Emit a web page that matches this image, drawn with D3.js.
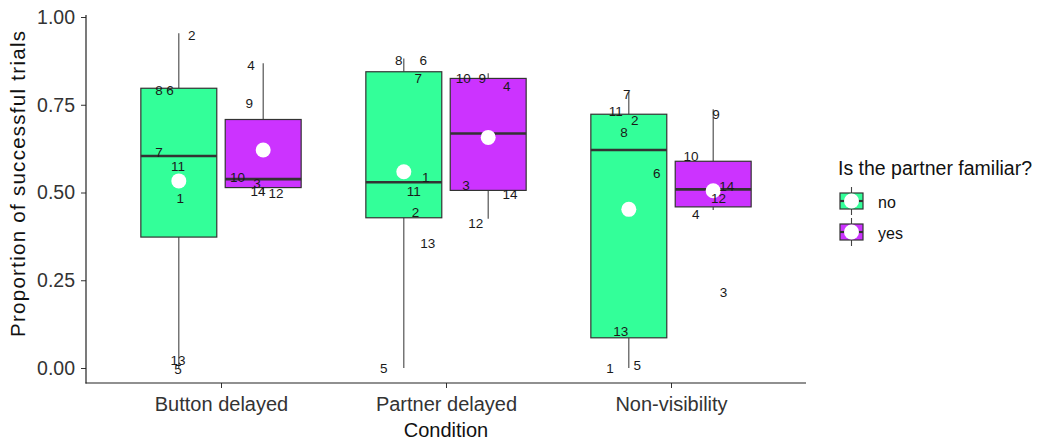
<!DOCTYPE html>
<html>
<head>
<meta charset="utf-8">
<script src="https://cdn.jsdelivr.net/npm/d3@7"></script>
<style>
  body { margin: 0; background: #fff; }
  text { font-family: "Liberation Sans", Arial, sans-serif; }
</style>
</head>
<body>
<svg id="chart" width="1038" height="441"></svg>
<script>
// ---- data ----
const conditions = ["Button delayed", "Partner delayed", "Non-visibility"];
const familiarity = ["no", "yes"];
const fillColors = ["#33FF99", "#CC33FF"];

// box statistics, one [no, yes] pair per condition
const whiskerLow  = [[0.000, 0.498], [0.000, 0.425], [0.000, 0.450]];
const lowerQuart  = [[0.373, 0.514], [0.428, 0.506], [0.086, 0.459]];
const medians     = [[0.604, 0.538], [0.529, 0.668], [0.621, 0.509]];
const upperQuart  = [[0.797, 0.708], [0.844, 0.825], [0.723, 0.589]];
const whiskerHigh = [[0.954, 0.868], [0.882, 0.840], [0.787, 0.737]];
const groupMeans  = [[0.533, 0.621], [0.559, 0.657], [0.452, 0.505]];

// participant labels (jittered text): ids, proportion, horizontal jitter in category units
const labelIds = [
  [[2, 8, 6, 7, 11, 1, 13, 5], [4, 9, 10, 3, 14, 12]],
  [[8, 6, 7, 1, 11, 2, 13, 5], [10, 9, 4, 3, 14, 12]],
  [[7, 11, 2, 8, 6, 13, 1, 5], [9, 10, 14, 12, 4, 3]]
];
const labelValues = [
  [[0.947, 0.791, 0.791, 0.616, 0.576, 0.483, 0.023, -0.003], [0.863, 0.756, 0.545, 0.526, 0.505, 0.498]],
  [[0.876, 0.876, 0.825, 0.545, 0.505, 0.445, 0.355, 0.000], [0.825, 0.825, 0.804, 0.521, 0.496, 0.414]],
  [[0.781, 0.733, 0.707, 0.673, 0.555, 0.106, 0.000, 0.008], [0.723, 0.604, 0.519, 0.485, 0.439, 0.217]]
];
const labelJitter = [
  [[0.058, -0.088, -0.039, -0.088, -0.004, 0.006, -0.004, -0.004], [-0.054, -0.062, -0.114, -0.028, -0.023, 0.057]],
  [[-0.023, 0.086, 0.064, 0.097, 0.044, 0.052, 0.106, -0.089], [-0.111, -0.026, 0.082, -0.099, 0.097, -0.055]],
  [[-0.009, -0.058, 0.026, -0.021, 0.124, -0.036, -0.084, 0.038], [0.012, -0.099, 0.060, 0.024, -0.077, 0.046]]
];

const yTicks = [0, 0.25, 0.5, 0.75, 1];

// ---- layout ----
const panel = { left: 86, right: 806, top: 15, bottom: 383 };
const svg = d3.select("#chart");

const x = d3.scalePoint().domain(conditions).range([panel.left, panel.right]).padding(0.6);
const step = x.step();
const dodgeWidth = 0.75;
const boxWidth = dodgeWidth / 2 * 0.9 * step;
const groupX = (ci, gi) => x(conditions[ci]) + (gi - 0.5) * dodgeWidth / 2 * step;

const y = d3.scaleLinear().domain([0, 1]).range([368, 17]);

// flatten into box records
const boxes = [];
conditions.forEach((c, ci) => familiarity.forEach((f, gi) => {
  boxes.push({
    ci, gi,
    lo: whiskerLow[ci][gi], q1: lowerQuart[ci][gi], med: medians[ci][gi],
    q3: upperQuart[ci][gi], hi: whiskerHigh[ci][gi], mean: groupMeans[ci][gi]
  });
}));

const plot = svg.append("g");

// whiskers
plot.selectAll("line.whisker-up").data(boxes).join("line")
  .attr("x1", d => groupX(d.ci, d.gi)).attr("x2", d => groupX(d.ci, d.gi))
  .attr("y1", d => y(d.q3)).attr("y2", d => y(d.hi))
  .attr("stroke", "#444").attr("stroke-width", 1.1);
plot.selectAll("line.whisker-down").data(boxes).join("line")
  .attr("x1", d => groupX(d.ci, d.gi)).attr("x2", d => groupX(d.ci, d.gi))
  .attr("y1", d => y(d.q1)).attr("y2", d => y(d.lo))
  .attr("stroke", "#444").attr("stroke-width", 1.1);

// boxes
plot.selectAll("rect.box").data(boxes).join("rect")
  .attr("x", d => groupX(d.ci, d.gi) - boxWidth / 2)
  .attr("width", boxWidth)
  .attr("y", d => y(d.q3))
  .attr("height", d => y(d.q1) - y(d.q3))
  .attr("fill", d => fillColors[d.gi])
  .attr("stroke", "#333").attr("stroke-width", 1.2);

// medians
plot.selectAll("line.median").data(boxes).join("line")
  .attr("x1", d => groupX(d.ci, d.gi) - boxWidth / 2)
  .attr("x2", d => groupX(d.ci, d.gi) + boxWidth / 2)
  .attr("y1", d => y(d.med)).attr("y2", d => y(d.med))
  .attr("stroke", "#333").attr("stroke-width", 2.6);

// means
plot.selectAll("circle.mean").data(boxes).join("circle")
  .attr("cx", d => groupX(d.ci, d.gi))
  .attr("cy", d => y(d.mean))
  .attr("r", 7.5)
  .attr("fill", "#fff");

// participant labels
const labels = [];
labelIds.forEach((byGroup, ci) => byGroup.forEach((ids, gi) => ids.forEach((id, k) => {
  labels.push({ ci, gi, id, v: labelValues[ci][gi][k], j: labelJitter[ci][gi][k] });
})));
plot.selectAll("text.subject").data(labels).join("text")
  .attr("x", d => groupX(d.ci, d.gi) + d.j * step)
  .attr("y", d => y(d.v))
  .attr("dy", "0.36em")
  .attr("text-anchor", "middle")
  .attr("font-size", 13.5)
  .attr("fill", "#1a1a1a")
  .text(d => d.id);

// ---- axes ----
const axisColor = "#333";
const yAxis = svg.append("g").attr("transform", `translate(${panel.left},0)`)
  .call(d3.axisLeft(y).tickValues(yTicks).tickFormat(d3.format(".2f")).tickSize(5).tickPadding(6));
yAxis.select(".domain").remove();
yAxis.selectAll(".tick line").attr("stroke", axisColor);
yAxis.selectAll(".tick text").attr("font-size", 19.5).attr("fill", "#333")
  .attr("font-family", "Liberation Sans, Arial, sans-serif");

const xAxis = svg.append("g").attr("transform", `translate(0,${panel.bottom})`)
  .call(d3.axisBottom(x).tickSize(5).tickPadding(9));
xAxis.select(".domain").remove();
xAxis.selectAll(".tick line").attr("stroke", axisColor);
xAxis.selectAll(".tick text").attr("font-size", 20).attr("fill", "#333")
  .attr("font-family", "Liberation Sans, Arial, sans-serif");

svg.append("line")
  .attr("x1", panel.left).attr("x2", panel.left)
  .attr("y1", panel.top).attr("y2", panel.bottom + 0.5)
  .attr("stroke", "#222").attr("stroke-width", 1.2);
svg.append("line")
  .attr("x1", panel.left - 0.5).attr("x2", panel.right)
  .attr("y1", panel.bottom).attr("y2", panel.bottom)
  .attr("stroke", "#222").attr("stroke-width", 1.2);

svg.append("text")
  .attr("x", (panel.left + panel.right) / 2).attr("y", 437)
  .attr("text-anchor", "middle").attr("font-size", 20).attr("fill", "#111")
  .text("Condition");

svg.append("text")
  .attr("transform", "translate(25,184) rotate(-90)")
  .attr("text-anchor", "middle").attr("font-size", 20.5).attr("fill", "#111")
  .attr("textLength", 306).attr("lengthAdjust", "spacing")
  .text("Proportion of successful trials");

// ---- legend ----
const legend = svg.append("g").attr("transform", "translate(838,0)");
legend.append("text").attr("x", 0).attr("y", 175)
  .attr("font-size", 19.5).attr("fill", "#111")
  .text("Is the partner familiar?");

const keyW = 23, keyH = 16;
const keys = legend.selectAll("g.key").data(familiarity).join("g")
  .attr("transform", (d, i) => `translate(2,${201 + i * 31})`);
keys.append("line")
  .attr("x1", keyW / 2).attr("x2", keyW / 2).attr("y1", -14).attr("y2", 14)
  .attr("stroke", "#444").attr("stroke-width", 1.1);
keys.append("rect")
  .attr("x", 0).attr("y", -keyH / 2).attr("width", keyW).attr("height", keyH)
  .attr("fill", (d, i) => fillColors[i]).attr("stroke", "#333").attr("stroke-width", 1.2);
keys.append("line")
  .attr("x1", 0).attr("x2", keyW).attr("y1", 0).attr("y2", 0)
  .attr("stroke", "#333").attr("stroke-width", 2.2);
keys.append("circle")
  .attr("cx", keyW / 2).attr("cy", 0).attr("r", 7.5).attr("fill", "#fff");
keys.append("text")
  .attr("x", 38).attr("y", 7)
  .attr("font-size", 16).attr("fill", "#111")
  .text(d => d);
</script>
</body>
</html>
